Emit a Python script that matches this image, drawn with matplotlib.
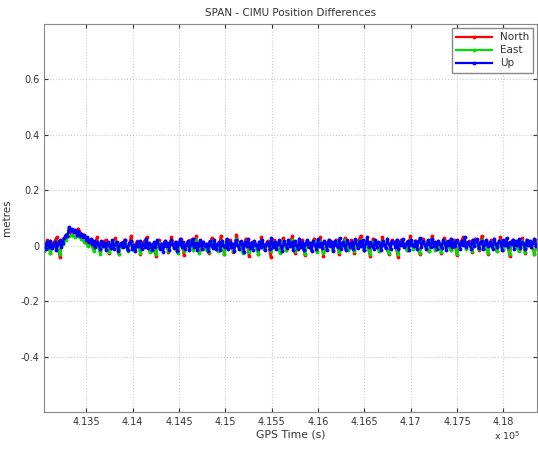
import matplotlib
matplotlib.use("Agg")
import matplotlib.pyplot as plt
import numpy as np
from matplotlib.ticker import FuncFormatter

# GPS time span of the record (s)
t_start = 413046.0
t_end = 418367.0

# position differences, mm
north_mm = [-14, 20, -26, 10, 30, -40, 24, 34, 48, 38, 52, 62, 44, 38, 12, 24, -8, 30, -20, 14,
            22, -26, 6, 28, -30, 10, 20, -14, 36, -6, 16, -28, 12, 30, -20, 6, -36, 22, 0, 16,
            -22, 30, 4, -16, 26, -34, 10, 20, -8, 34, -20, 14, 0, -26, 28, 6, -14, 36, -30, 10,
            20, -24, 40, 0, -16, 26, -36, 14, 6, -28, 30, -10, 16, -40, 22, 4, -20, 28, -14, 10,
            34, -26, 6, 20, -34, 14, 0, 26, -20, 30, -38, 10, 16, -14, 22, -30, 6, 28, -10, 20,
            -26, 14, 36, -16, 6, -36, 26, 10, -20, 30, 0, -28, 20, 14, -40, 22, 6, -14, 34, -6,
            16, -30, 26, 4, -20, 36, -10, 14, -26, 28, 6, -16, 22, -34, 10, 30, -6, 16, -22, 26,
            -14, 34, 6, -28, 20, 0, -20, 30, -10, 16, -36, 22, 6, -16, 28, -26, 14, 4, -30, 20]
east_mm = [-20, 6, -26, 0, 14, -30, 6, 20, 34, 38, 30, 34, 24, 14, 0, 6, -20, 10, -28, 0,
           6, -24, -6, 14, -28, 0, 10, -20, 16, -14, 4, -26, 6, 14, -24, 0, -30, 10, -6, 14,
           -20, 16, -4, -26, 10, -20, 0, 14, -16, 20, -26, 6, -10, -24, 14, 0, -20, 16, -28, 4,
           10, -20, 24, -6, -26, 14, -24, 6, 0, -30, 16, -10, 6, -20, 14, -4, -26, 16, -14, 6,
           20, -20, 0, 10, -28, 6, -10, 16, -24, 14, -26, 4, 10, -16, 16, -24, 0, 20, -14, 6,
           -20, 10, 20, -14, 0, -28, 14, 4, -20, 16, -6, -26, 10, 6, -30, 14, 0, -16, 20, -10,
           6, -26, 16, 0, -20, 24, -14, 6, -24, 16, 0, -14, 14, -28, 6, 16, -10, 10, -20, 14,
           -10, 20, 0, -26, 14, -6, -20, 16, -14, 10, -28, 14, 4, -20, 16, -24, 6, 0, -30, 10]
up_mm = [6, -12, 15, -4, 18, -9, 3, 12, -15, 8, 20, -6, 10, 28, 40, 35, 68, 52, 60, 48,
         58, 40, 52, 36, 44, 30, 38, 22, 30, 15, 24, 8, 18, -4, 14, 6, -10, 16, -2, 10,
         -14, 12, 2, -8, 20, -12, 6, 14, -18, 4, 10, -6, 22, -2, -15, 9, 16, -10, 3, -20,
         12, 0, 18, -12, 7, -4, 24, -8, 10, 2, -16, 14, -6, 20, 4, -12, 8, -22, 16, -2,
         10, -14, 20, 5, -8, 15, -18, 6, 24, -4, 12, -10, 2, 18, -14, 8, 26, -6, 10, -16,
         4, 20, -10, 14, -2, 8, -20, 16, 2, -8, 22, -12, 6, 12, -16, 18, 0, -6, 25, -10,
         14, -4, 8, -18, 20, 2, -12, 16, 6, -22, 12, 0, 24, -8, 10, -14, 18, 4, -10, 15,
         -6, 22, 3, -16, 12, 8, -10, 28, -4, 14, -12, 6, 20, -2, -18, 16, 5, -8, 22, 0,
         12, -14, 18, 2, -10, 26, -6, 14, -16, 8, 20, -4, 10, -20, 16, 4, -12, 24, -2, 10,
         -8, 18, 6, -14, 22, 0, 12, -18, 16, 4, -6, 28, -10, 12, 2, -16, 20, 8, -4, 14,
         -12, 24, 6, -8, 16, -2, 20, -14, 10, 30, -6, 12, 4, -10, 22, -4, 14, 8, -16, 18,
         2, -8, 26, 6, -12, 18, 10, -4, 22, -10, 14, 2, 24, -6, 8, 16, -14, 20, 4, -2,
         18, -10, 12, 28, -6, 16, 2, -12, 20, 8, -4, 24, 0, 14, -10, 18, 6, -8, 22, 10,
         -14, 16, 4, 26, -6, 12, -2, 20, 8, -12, 18, 2, 30, -4, 14, 6, -10, 22, 0, 16,
         24, -8, 10, 18, -12, 6, 22, -2, 14, 4, -10, 26, 8, -6, 18, 12, -14, 20, 2, 28,
         -4, 12, 6, 20, -10, 16, 2, 24, -8, 14, 8, -12, 22, 4, 18, -6, 10, 26, -2, 8]

labels = ["North", "East", "Up"]
colors = ["#ff0000", "#00dd00", "#0000ff"]

fig = plt.figure(figsize=(5.38, 4.5), dpi=100)
ax = fig.add_axes([0.082, 0.084, 0.917, 0.863])

for series, lab, col in zip([north_mm, east_mm, up_mm], labels, colors):
    t = np.linspace(t_start, t_end, len(series))
    ax.plot(t, np.array(series) / 1000.0, color=col, lw=1.6, marker=".", ms=3.5, label=lab)

ax.set_xlim(t_start, t_end)
ax.set_ylim(-0.6, 0.8)
ax.set_xticks([413500, 414000, 414500, 415000, 415500, 416000, 416500, 417000, 417500, 418000])
ax.set_yticks([-0.4, -0.2, 0, 0.2, 0.4, 0.6])
ax.xaxis.set_major_formatter(FuncFormatter(lambda v, p: "{:g}".format(round(v / 1e5, 4))))
ax.yaxis.set_major_formatter(FuncFormatter(lambda v, p: "{:g}".format(round(v, 2))))
ax.tick_params(direction="in", top=True, right=True, labelsize=7, colors="#333333", length=3)
ax.grid(True, color="#cccccc", linestyle=":", lw=0.8)
for s in ax.spines.values():
    s.set_color("#888888")

ax.set_title("SPAN - CIMU Position Differences", fontsize=7.5, color="#333333", pad=6)
ax.set_xlabel("GPS Time (s)", fontsize=7.8, color="#333333", labelpad=2)
ax.set_ylabel("metres", fontsize=7.5, color="#333333", labelpad=6)
fig.text(0.918, 0.022, r"x 10$^5$", fontsize=6.8, color="#333333")

leg = ax.legend(loc="upper right", fontsize=7.5, handlelength=3.4, borderaxespad=0.4,
                fancybox=False, framealpha=1, labelspacing=0.3)
leg.get_frame().set_edgecolor("#888888")
for txt in leg.get_texts():
    txt.set_color("#333333")

fig.savefig("out.png", dpi=100)
